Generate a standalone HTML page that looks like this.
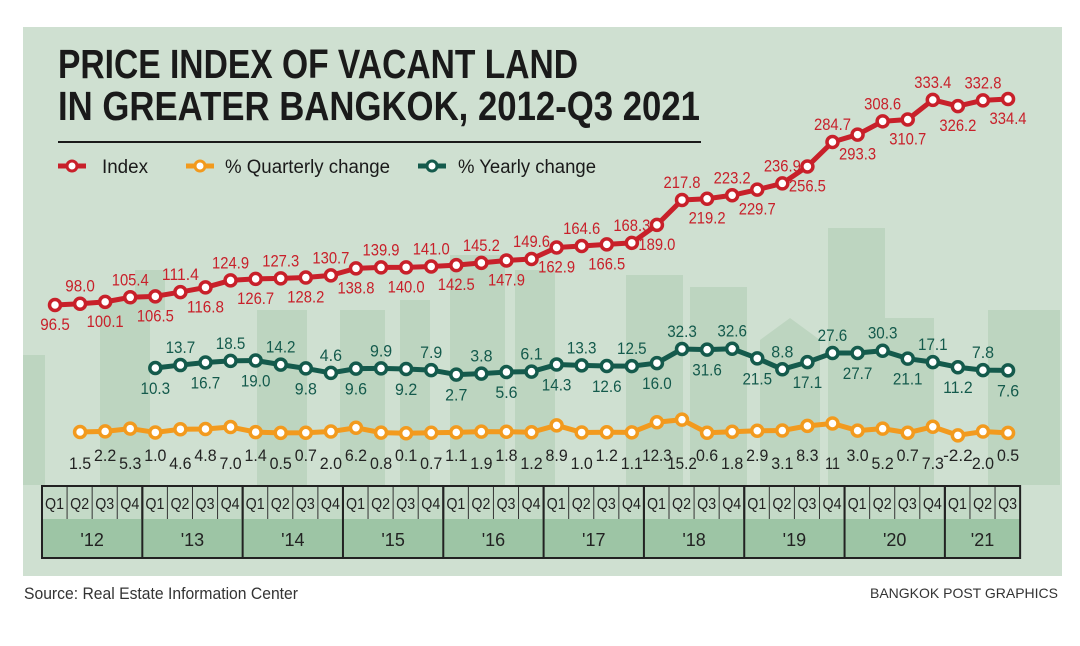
<!DOCTYPE html>
<html><head><meta charset="utf-8"><style>
html,body{margin:0;padding:0;background:#fff;}
svg{display:block;font-family:"Liberation Sans Narrow","Liberation Sans",sans-serif;}
</style></head><body>
<svg id="chart" width="1080" height="646" viewBox="0 0 1080 646" xmlns="http://www.w3.org/2000/svg">
<rect x="23" y="27" width="1039" height="549" fill="#cfe0d1"/>
<g id="skyline" fill="#bdd5c0">
<rect x="23" y="355" width="22" height="130"/><rect x="100" y="300" width="50" height="185"/><rect x="135" y="270" width="30" height="40"/>
<rect x="257" y="310" width="50" height="175"/><rect x="340" y="310" width="45" height="175"/><rect x="400" y="300" width="30" height="185"/>
<rect x="450" y="255" width="55" height="230"/><rect x="515" y="270" width="40" height="215"/><rect x="626" y="275" width="57" height="210"/>
<rect x="690" y="287" width="57" height="198"/><rect x="828" y="228" width="57" height="257"/><rect x="877" y="318" width="57" height="167"/>
<rect x="988" y="310" width="72" height="175"/><polygon points="760,340 790,318 820,340 820,485 760,485"/>
</g>
<text x="58" y="78" font-size="41" font-weight="bold" fill="#1a1a1a" textLength="520" lengthAdjust="spacingAndGlyphs">PRICE INDEX OF VACANT LAND</text>
<text x="58" y="120" font-size="41" font-weight="bold" fill="#1a1a1a" textLength="642" lengthAdjust="spacingAndGlyphs">IN GREATER BANGKOK, 2012-Q3 2021</text>
<rect x="58" y="141" width="643" height="2" fill="#1a1a1a"/>
<g font-size="19" fill="#1a1a1a">
<g><line x1="58" y1="166" x2="86" y2="166" stroke="#c8202a" stroke-width="5"/><circle cx="72" cy="166" r="5" fill="#fff" stroke="#c8202a" stroke-width="3"/><text x="102" y="173" textLength="46" lengthAdjust="spacingAndGlyphs">Index</text></g>
<g><line x1="186" y1="166" x2="214" y2="166" stroke="#f29a1e" stroke-width="5"/><circle cx="200" cy="166" r="5" fill="#fff" stroke="#f29a1e" stroke-width="3"/><text x="225" y="173" textLength="165" lengthAdjust="spacingAndGlyphs">% Quarterly change</text></g>
<g><line x1="418" y1="166" x2="446" y2="166" stroke="#145a4c" stroke-width="5"/><circle cx="432" cy="166" r="5" fill="#fff" stroke="#145a4c" stroke-width="3"/><text x="458" y="173" textLength="138" lengthAdjust="spacingAndGlyphs">% Yearly change</text></g>
</g>
<g id="plot"></g>
<g id="table"></g>
<text x="24" y="599" font-size="17" fill="#333" textLength="274" lengthAdjust="spacingAndGlyphs">Source: Real Estate Information Center</text>
<text x="1058" y="598" font-size="14" fill="#333" text-anchor="end">BANGKOK POST GRAPHICS</text>
</svg>
<script>
const years = ["'12","'13","'14","'15","'16","'17","'18","'19","'20","'21"];
const quarters = ["Q1","Q2","Q3","Q4"];
const indexValues = [96.5,98.0,100.1,105.4,106.5,111.4,116.8,124.9,126.7,127.3,128.2,130.7,138.8,139.9,140.0,141.0,142.5,145.2,147.9,149.6,162.9,164.6,166.5,168.3,189.0,217.8,219.2,223.2,229.7,236.9,256.5,284.7,293.3,308.6,310.7,333.4,326.2,332.8,334.4];
const quarterlyValues = [1.5,2.2,5.3,1.0,4.6,4.8,7.0,1.4,0.5,0.7,2.0,6.2,0.8,0.1,0.7,1.1,1.9,1.8,1.2,8.9,1.0,1.2,1.1,12.3,15.2,0.6,1.8,2.9,3.1,8.3,11,3.0,5.2,0.7,7.3,-2.2,2.0,0.5];
const quarterlyLabels = ["1.5","2.2","5.3","1.0","4.6","4.8","7.0","1.4","0.5","0.7","2.0","6.2","0.8","0.1","0.7","1.1","1.9","1.8","1.2","8.9","1.0","1.2","1.1","12.3","15.2","0.6","1.8","2.9","3.1","8.3","11","3.0","5.2","0.7","7.3","-2.2","2.0","0.5"];
const quarterlyStart = 1;
const yearlyValues = [10.3,13.7,16.7,18.5,19.0,14.2,9.8,4.6,9.6,9.9,9.2,7.9,2.7,3.8,5.6,6.1,14.3,13.3,12.6,12.5,16.0,32.3,31.6,32.6,21.5,8.8,17.1,27.6,27.7,30.3,21.1,17.1,11.2,7.8,7.6];
const yearlyStart = 4;

const NS="http://www.w3.org/2000/svg";
const x0=55, step=25.08;
const xAt = i => x0 + i*step;
const yIndex = v => 305 - (v-96.5)*0.866;
const yYearly = v => 368 - (v-10.3)*0.864;
const yQuarterly = v => 432 - (v-1.5)*0.9;
function mk(tag, attrs, parent){const e=document.createElementNS(NS,tag);for(const k in attrs)e.setAttribute(k,attrs[k]);parent.appendChild(e);return e;}
const plot=document.getElementById('plot');

function series(vals, start, yf, color, name, labelFn, labels){
  const g=mk('g',{},plot);
  
  
  const pts=vals.map((v,k)=>[xAt(start+k), yf(v)]);
  const line=mk('polyline',{points:pts.map(p=>p.join(',')).join(' '),fill:'none',stroke:color,'stroke-width':5,'stroke-linejoin':'round'},g);
  
  
  pts.forEach((p,k)=>{
    const c=mk('circle',{cx:p[0],cy:p[1],r:5.5,fill:'#fff',stroke:color,'stroke-width':3.5},g);
    
    
    const i=start+k;
    const txt = labels ? labels[k] : vals[k].toFixed(1);
    const t=mk('text',{x:p[0],y:labelFn(i,p[1]),'text-anchor':'middle','font-size':17,fill:color==='#f29a1e'?'#222':color,textLength:txt.length*7.4,lengthAdjust:'spacingAndGlyphs'},g);
    
    
    t.textContent = txt;
  });
}
series(indexValues,0,yIndex,'#c8202a','index',(i,y)=> i%2===0 ? y+25 : y-12);
series(yearlyValues,yearlyStart,yYearly,'#145a4c','yearly-change',(i,y)=> i%2===0 ? y+26 : y-12);
series(quarterlyValues,quarterlyStart,yQuarterly,'#f29a1e','quarterly-change',(i,y)=> i%2===1 ? 469 : 461, quarterlyLabels);

const tb=document.getElementById('table');
const tx=42, ty=486, qh=33, yh=39, n=39;
const total=n*step;
mk('rect',{x:tx,y:ty,width:total,height:qh,fill:'#c4dac7'},tb);
mk('rect',{x:tx,y:ty+qh,width:total,height:yh,fill:'#9dc5a5'},tb);
for(let i=0;i<n;i++){
  const cx=tx+i*step;
  if(i>0) mk('line',{x1:cx,y1:ty,x2:cx,y2:ty+qh,stroke:'#333','stroke-width':i%4===0?2:1},tb);
  const t=mk('text',{x:cx+step/2,y:ty+23,'text-anchor':'middle','font-size':16,fill:'#222',textLength:19,lengthAdjust:'spacingAndGlyphs'},tb);
  
  
  t.textContent=quarters[i%4];
}
years.forEach((yr,k)=>{
  const sx=tx+k*4*step, w=Math.min(4, n-k*4)*step;
  if(k>0) mk('line',{x1:sx,y1:ty,x2:sx,y2:ty+qh+yh,stroke:'#222','stroke-width':2},tb);
  const t=mk('text',{x:sx+w/2,y:ty+qh+27,'text-anchor':'middle','font-size':18,fill:'#222'},tb);
  
  
  t.textContent=yr;
});
mk('rect',{x:tx,y:ty,width:total,height:qh+yh,fill:'none',stroke:'#222','stroke-width':2},tb);
</script>
</body></html>
